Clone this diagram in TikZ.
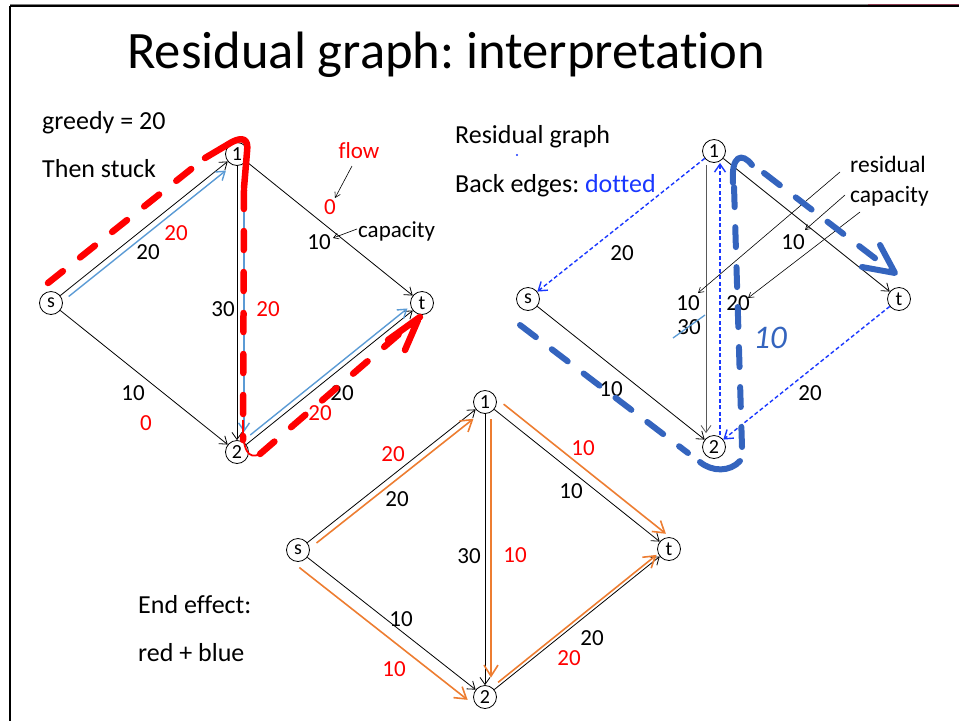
\documentclass[tikz,border=0pt]{standalone}
\usepackage{fontspec}
\setmainfont{Carlito}[Ligatures=NoCommon]
\usetikzlibrary{arrows.meta}
\definecolor{lblue}{RGB}{91,155,213}
\definecolor{orng}{RGB}{237,125,49}
\definecolor{dotblue}{RGB}{25,55,255}
\definecolor{hblue}{RGB}{52,100,190}
\definecolor{fred}{RGB}{255,0,0}
\definecolor{frameRed}{RGB}{140,60,80}
\frenchspacing
\begin{document}
\begin{tikzpicture}[x=1pt,y=-1pt,
  vert/.style={circle,draw,line width=0.8pt,inner sep=0pt,minimum size=23pt,fill=white,font=\fontsize{20}{20}\selectfont},
  edge/.style={draw,line width=0.8pt,-{Straight Barb[length=7pt,width=10pt]}},
  ann/.style={draw,line width=0.6pt,-{Straight Barb[length=5pt,width=6pt]}},
  lbl/.style={draw=lblue,line width=1.4pt,-{Straight Barb[length=8pt,width=11pt]}},
  org/.style={draw=orng,line width=1.6pt,-{Straight Barb[length=11pt,width=14pt]}},
  dot/.style={draw=dotblue,line width=1.4pt,dash pattern=on 4pt off 2.5pt,-{Straight Barb[length=8pt,width=11pt]}},
  redd/.style={draw=fred,line width=6.5pt,line cap=round,dash pattern=on 19pt off 22pt},
  reds/.style={draw=fred,line width=6.5pt,line cap=round,line join=round},
  blued/.style={draw=hblue,line width=6pt,line cap=round,dash pattern=on 20pt off 20pt},
  blues/.style={draw=hblue,line width=6pt,line cap=round,line join=round},
  lab/.style={font=\fontsize{23}{24}\selectfont,inner sep=0pt},
  rlab/.style={lab,text=fred},
  txt/.style={font=\fontsize{26}{28}\selectfont,inner sep=0pt,anchor=base west}]
\useasboundingbox (0,0) rectangle (959,721);
% frame
\draw[black,line width=2.5pt] (10,5.5) -- (10,721);
\draw[black,line width=1.8pt] (10,6) -- (959,6);
\draw[gray,line width=1pt] (10,4.2) -- (868,4.2);
\draw[frameRed,line width=1pt] (868,4.2) -- (959,4.2);
% title
\node[font=\fontsize{52.6}{56}\selectfont,inner sep=0pt,anchor=base west] (title) at (127,68) {Residual graph: interpretation};
% ---------- top-left graph ----------
\node[txt] (greedy) at (42,129) {greedy = 20};
\node[txt] (stuck) at (42,177) {Then stuck};
\node[vert] (Ls) at (51,303) {s};
\node[vert] (L1) at (237,154) {1};
\node[vert] (Lt) at (422,303) {t};
\node[vert] (L2) at (237,452) {2};
\draw[edge] (Ls) -- (L1);
\draw[edge] (Ls) -- (L2);
\draw[edge] (L1) -- (Lt);
\draw[edge] (L2) -- (Lt);
\draw[edge] (L1) -- (L2);
\node[lab] (l1) at (148,252) {20};
\node[rlab] (l2) at (176,233) {20};
\node[lab] (l3) at (223,309) {30};
\node[rlab] (l4) at (268,309) {20};
\node[lab] (l5) at (319,242) {10};
\node[rlab] (l6) at (330,207) {0};
\node[rlab,anchor=base,font=\fontsize{23}{24}\selectfont] (flow) at (359,158) {flow};
\node[lab,anchor=base west,font=\fontsize{23}{24}\selectfont] (capL) at (358,237) {capacity};
\node[lab] (l7) at (133,393) {10};
\node[rlab] (l8) at (146,423) {0};
\node[lab] (l9) at (342,393) {20};
\node[rlab] (l10) at (320,413) {20};
\coordinate (fa) at (352,166);
\coordinate (fb) at (335,198);
\coordinate (ca) at (357,229);
\coordinate (cb) at (333,238);
\draw[ann] (fa) -- (fb);
\draw[ann] (ca) -- (cb);
\draw[lbl,transform canvas={xshift=3.7pt,yshift=-4.7pt},shorten <=6pt,shorten >=7pt] (Ls) -- (L1);
\draw[lbl,transform canvas={xshift=7pt},shorten <=24pt,shorten >=8pt] (L1) -- (L2);
\draw[lbl,transform canvas={xshift=-3pt,yshift=3.9pt},shorten <=9pt,shorten >=3pt] (L2) -- (Lt);
% red hand-drawn path
\draw[redd] (48,283) -- (205,158);
\draw[reds] (205,158) -- (232,142) .. controls (242,137) and (249,138) .. (247,152) -- (244,188);
\draw[redd] (244,190) -- (243,440);
\draw[fred,line width=1.8pt] (243,420) .. controls (242,450) and (248,460) .. (260,454);
\draw[redd] (260,454) -- (413,322);
\draw[reds] (388,340) -- (420,317) (405,350) -- (418,320);
% ---------- top-right graph ----------
\node[txt] (resg) at (455,143) {Residual graph};
\fill[dotblue] (517,155) circle (1.1pt);
\node[txt] (back) at (455,192) {Back edges: \textcolor{dotblue}{dotted}};
\node[vert] (Rs) at (528,299) {s};
\node[vert] (R1) at (714,151) {1};
\node[vert] (Rt) at (899,299) {t};
\node[vert] (R2) at (714,447) {2};
\draw[edge] (Rs) -- (R2);
\draw[edge] (R1) -- (Rt);
\draw[edge,draw=gray!70!black,transform canvas={xshift=-8pt},shorten <=2pt,shorten >=2pt] (R1) -- (R2);
\draw[dot,transform canvas={xshift=6pt}] (R2) -- (R1);
\draw[dot] (R1) -- (Rs);
\draw[dot] (Rt) -- (R2);
\node[lab] (r1) at (622,253) {20};
\node[lab] (r2) at (688,303) {10};
\node[lab] (r3) at (689,327) {30};
\node[lab] (r4) at (738,303) {20};
\node[lab] (r5) at (793,242) {10};
\node[lab] (r6) at (611,389) {10};
\node[lab] (r7) at (810,393) {20};
\node[lab,anchor=base west,font=\fontsize{23.5}{24}\selectfont] (resid) at (850,172) {residual};
\node[lab,anchor=base west,font=\fontsize{23.5}{24}\selectfont] (rcap) at (850,202) {capacity};
\coordinate (aa) at (840,172);
\coordinate (ab) at (698,293);
\coordinate (ba) at (845,195);
\coordinate (bb) at (805,230);
\coordinate (cca) at (860,212);
\coordinate (ccb) at (748,298);
\draw[ann] (aa) -- (ab);
\draw[ann] (ba) -- (bb);
\draw[ann] (cca) -- (ccb);
\draw[lblue,line width=1.3pt] (673,338) -- (705,315);
% blue hand-drawn path
\draw[blued] (520,325) -- (688,453);
\draw[blues] (700,462) .. controls (712,472) and (730,472) .. (740,461);
\draw[blued] (742,447) -- (734,186);
\draw[blues] (733,183) .. controls (731,155) and (742,152) .. (752,165);
\draw[blued] (764,173) -- (893,272);
\draw[blues] (880,245) -- (895,273) -- (862,267);
\node[text=hblue,font=\fontsize{33}{33}\selectfont\itshape,inner sep=0pt] (hand) at (770,338) {10};
% ---------- bottom graph ----------
\node[txt] (endeff) at (138,613) {End effect:};
\node[txt] (rb) at (138,661) {red + blue};
\node[vert] (Bs) at (298,550) {s};
\node[vert] (B1) at (485,402) {1};
\node[vert] (Bt) at (669,549) {t};
\node[vert] (B2) at (485,697) {2};
\draw[edge] (Bs) -- (B1);
\draw[edge] (Bs) -- (B2);
\draw[edge] (B1) -- (Bt);
\draw[edge] (B2) -- (Bt);
\draw[edge] (B1) -- (B2);
\draw[org,transform canvas={xshift=3.7pt,yshift=-4.7pt},shorten <=7pt,shorten >=7.5pt] (Bs) -- (B1);
\draw[org,transform canvas={xshift=6.2pt,yshift=7.8pt},shorten <=4pt,shorten >=0pt] (B1) -- (Bt);
\draw[org,transform canvas={xshift=6pt},shorten <=5.5pt,shorten >=7.5pt] (B1) -- (B2);
\draw[org,transform canvas={xshift=-8pt,yshift=-10.2pt},shorten <=0pt,shorten >=0pt] (Bs) -- (B2);
\draw[org,transform canvas={xshift=-2pt,yshift=2.5pt},shorten <=7.5pt,shorten >=1.5pt] (B2) -- (Bt);
\node[rlab] (b1) at (393,454) {20};
\node[lab] (b2) at (397,499) {20};
\node[rlab] (b3) at (583,448) {10};
\node[lab] (b4) at (571,491) {10};
\node[lab] (b5) at (469,556) {30};
\node[rlab] (b6) at (515,555) {10};
\node[lab] (b7) at (401,619) {10};
\node[rlab] (b8) at (394,669) {10};
\node[lab] (b9) at (592,638) {20};
\node[rlab] (b10) at (569,658) {20};
\end{tikzpicture}
\end{document}
